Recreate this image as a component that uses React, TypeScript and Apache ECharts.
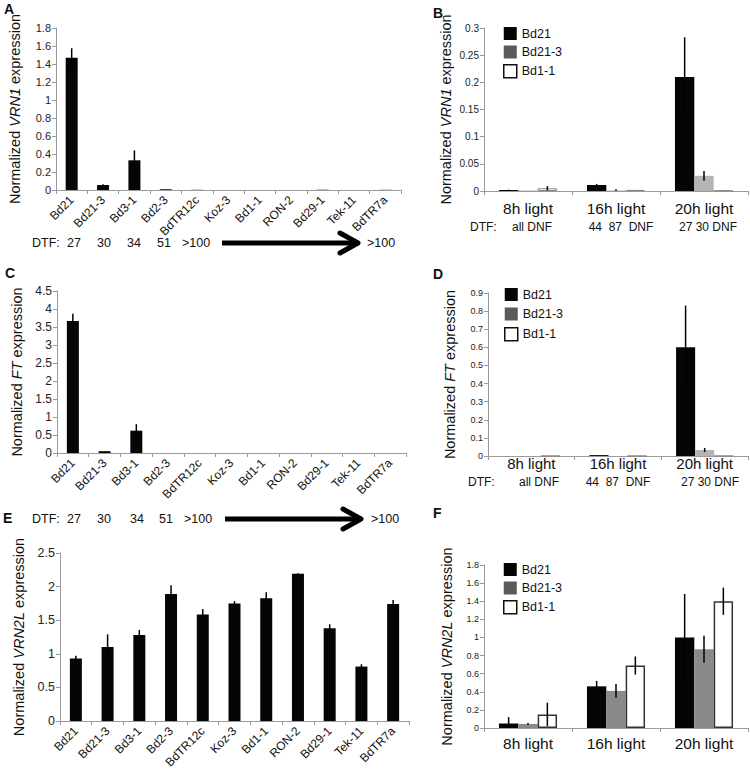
import React, { useEffect, useRef } from "react";
import * as echarts from "echarts";

const FONT = "Liberation Sans, Arial, sans-serif";

// ---------- data ----------
const strains = ["Bd21", "Bd21-3", "Bd3-1", "Bd2-3", "BdTR12c", "Koz-3", "Bd1-1", "RON-2", "Bd29-1", "Tek-11", "BdTR7a"];
const vrn1Strain = [1.47, 0.055, 0.33, 0.008, 0.002, 0, 0, 0, 0.003, 0, 0.002];
const vrn1StrainErr = [0.105, 0.008, 0.11, 0.002, 0, 0, 0, 0, 0, 0, 0];
const ftStrain = [3.67, 0.05, 0.62, 0, 0, 0, 0, 0, 0, 0, 0];
const ftStrainErr = [0.2, 0.005, 0.18, 0, 0, 0, 0, 0, 0, 0, 0];
const vrn2lStrain = [0.93, 1.1, 1.28, 1.89, 1.585, 1.75, 1.825, 2.19, 1.38, 0.81, 1.74];
const vrn2lStrainErr = [0.04, 0.19, 0.075, 0.13, 0.08, 0.035, 0.09, 0.01, 0.06, 0.035, 0.06];

const dtfValues = ["27", "30", "34", "51", ">100"];
const dtfEnd = ">100";

const lightGroups = ["8h light", "16h light", "20h light"];
const groupSeries = ["Bd21", "Bd21-3", "Bd1-1"];
const dtfGroups = ["all DNF", "44  87  DNF", "27 30 DNF"];

const vrn1Light = [
  [0.002, 0.011, 0.21],
  [0.001, 0.001, 0.028],
  [0.005, 0.002, 0.001],
];
const vrn1LightErr = [
  [0.0005, 0.002, 0.073],
  [0, 0.002, 0.009],
  [0.004, 0, 0],
];
const ftLight = [
  [0, 0.005, 0.6],
  [0, 0, 0.033],
  [0, 0, 0],
];
const ftLightErr = [
  [0, 0, 0.23],
  [0, 0, 0.011],
  [0, 0, 0],
];
const vrn2lLight = [
  [0.05, 0.46, 1.0],
  [0.045, 0.41, 0.87],
  [0.15, 0.69, 1.4],
];
const vrn2lLightErr = [
  [0.07, 0.06, 0.48],
  [0.01, 0.075, 0.15],
  [0.13, 0.1, 0.15],
];

// ---------- helpers ----------
const AXIS_GRAY = "#9a9a9a";

function errSeries(xi: number, values: number[], errs: number[], offset: number) {
  return {
    type: "custom",
    xAxisIndex: xi,
    yAxisIndex: xi,
    silent: true,
    z: 5,
    data: values.map((v, i) => [i, v, errs[i]]),
    renderItem: (params: any, api: any) => {
      const x = api.value(0);
      const v = api.value(1);
      const e = api.value(2);
      if (!e) return null;
      const top = api.coord([x, v + e]);
      const bot = api.coord([x, Math.max(v - e, 0)]);
      const w = api.size([1, 0])[0];
      const px = top[0] + offset * w;
      return {
        type: "line",
        shape: { x1: px, y1: top[1], x2: px, y2: bot[1] },
        style: { stroke: "#000", lineWidth: 1.5 },
      };
    },
  };
}

function yAxis(gi: number, max: number, interval: number, name: string, labelSize: number, nameGap: number) {
  return {
    gridIndex: gi,
    type: "value",
    min: 0,
    max,
    interval,
    axisLine: { show: true, lineStyle: { color: AXIS_GRAY, width: 1 } },
    axisTick: { show: true, length: 4, lineStyle: { color: AXIS_GRAY } },
    splitLine: { show: false },
    axisLabel: { fontSize: labelSize, color: "#222", margin: 5, fontFamily: FONT },
    name,
    nameLocation: "middle",
    nameRotate: 90,
    nameGap,
    nameTextStyle: {
      fontSize: 14.5,
      color: "#111",
      fontFamily: FONT,
      rich: { i: { fontStyle: "italic", fontSize: 14.5, color: "#111", fontFamily: FONT } },
    },
  };
}

function strainXAxis(gi: number) {
  return {
    gridIndex: gi,
    type: "category",
    data: strains,
    axisLine: { lineStyle: { color: AXIS_GRAY } },
    axisTick: { show: true, length: 4, lineStyle: { color: AXIS_GRAY } },
    axisLabel: { rotate: 45, interval: 0, fontSize: 12, color: "#111", margin: 8, fontFamily: FONT },
  };
}

function lightXAxis(gi: number, margin: number, size: number) {
  return {
    gridIndex: gi,
    type: "category",
    data: lightGroups,
    axisLine: { lineStyle: { color: AXIS_GRAY } },
    axisTick: { show: true, length: 4, lineStyle: { color: AXIS_GRAY } },
    axisLabel: { interval: 0, fontSize: size, color: "#111", margin, fontFamily: FONT },
  };
}

function strainBars(gi: number, values: number[]) {
  return {
    type: "bar",
    xAxisIndex: gi,
    yAxisIndex: gi,
    data: values,
    barWidth: 12,
    itemStyle: { color: "#050505" },
  };
}

function groupBars(gi: number, values: number[][], colors: any[]) {
  return values.map((vals, s) => ({
    type: "bar",
    name: groupSeries[s],
    xAxisIndex: gi,
    yAxisIndex: gi,
    data: vals,
    barWidth: "22%",
    barGap: "0%",
    itemStyle: colors[s],
  }));
}

function groupErrs(gi: number, values: number[][], errs: number[][]) {
  return values.map((vals, s) => errSeries(gi, vals, errs[s], (s - 1) * 0.22));
}

function legend(left: number, top: number, gap: number) {
  return {
    left,
    top,
    orient: "vertical",
    padding: 0,
    itemWidth: 13,
    itemHeight: 13,
    itemGap: gap,
    icon: "rect",
    selectedMode: false,
    textStyle: { fontSize: 12.5, color: "#111", fontFamily: FONT },
    data: [
      { name: "Bd21", itemStyle: { color: "#050505", borderWidth: 0 } },
      { name: "Bd21-3", itemStyle: { color: "#5a5a5a", borderWidth: 0 } },
      { name: "Bd1-1", itemStyle: { color: "#ffffff", borderColor: "#111", borderWidth: 1.5 } },
    ],
  };
}

function txt(x: number, y: number, text: string, size: number, opts: any = {}) {
  return {
    type: "text",
    x,
    y,
    silent: true,
    style: {
      text,
      fontSize: size,
      fontFamily: FONT,
      fill: "#111",
      textVerticalAlign: "middle",
      verticalAlign: "middle",
      ...opts,
    },
  };
}

function dtfRow(y: number, xs: number[], arrowX1: number, tipX: number, endX: number, halfH: number) {
  const els: any[] = [txt(32, y, "DTF:", 12.5)];
  dtfValues.forEach((v, i) => els.push(txt(xs[i], y, v, 12.5)));
  els.push({
    type: "line",
    silent: true,
    shape: { x1: arrowX1, y1: y, x2: tipX - 4, y2: y },
    style: { stroke: "#000", lineWidth: 5 },
  });
  els.push({
    type: "polyline",
    silent: true,
    shape: { points: [[tipX - 18, y - halfH], [tipX, y], [tipX - 18, y + halfH]] },
    style: { stroke: "#000", lineWidth: 5, fill: null, lineJoin: "round", lineCap: "round" },
  });
  els.push(txt(endX, y, dtfEnd, 12.5));
  return els;
}

function dtfGroupRow(y: number, dtfX: number, centers: number[]) {
  const els: any[] = [txt(dtfX, y, "DTF:", 12)];
  dtfGroups.forEach((g, i) => els.push(txt(centers[i], y, g, 12, { align: "center", textAlign: "center" })));
  return els;
}

export default function App() {
  const ref = useRef<HTMLDivElement>(null);

  useEffect(() => {
    if (!ref.current) return;
    const chart = echarts.init(ref.current, null, { renderer: "svg" });

    const colB = [
      { color: "#050505" },
      { color: "#b4b4b4" },
      { color: "#ffffff", borderColor: "#888", borderWidth: 1 },
    ];
    const colF = [
      { color: "#050505" },
      { color: "#8a8a8a" },
      { color: "#ffffff", borderColor: "#333", borderWidth: 1.5 },
    ];

    const option: any = {
      animation: false,
      backgroundColor: "#ffffff",
      textStyle: { fontFamily: FONT },
      grid: [
        { left: 56, top: 28, width: 345, height: 162 },
        { left: 484, top: 28, width: 264, height: 163 },
        { left: 57, top: 291, width: 349, height: 162 },
        { left: 488, top: 293, width: 260, height: 163 },
        { left: 60, top: 553, width: 349, height: 168 },
        { left: 484, top: 565, width: 264, height: 163 },
      ],
      xAxis: [
        strainXAxis(0),
        lightXAxis(1, 9, 15.5),
        strainXAxis(2),
        lightXAxis(3, 0, 15),
        strainXAxis(4),
        lightXAxis(5, 7, 15.5),
      ],
      yAxis: [
        yAxis(0, 1.8, 0.2, "Normalized {i|VRN1} expression", 11, 34),
        yAxis(1, 0.3, 0.05, "Normalized {i|VRN1} expression", 10, 31),
        yAxis(2, 4.5, 0.5, "Normalized {i|FT} expression", 12, 33),
        yAxis(3, 0.9, 0.1, "Normalized {i|FT} expression", 9, 31),
        yAxis(4, 2.5, 0.5, "Normalized {i|VRN2L} expression", 12.5, 34),
        yAxis(5, 1.8, 0.2, "Normalized {i|VRN2L} expression", 9, 30),
      ],
      legend: [legend(503, 27, 5.5), legend(504, 288, 6.5), legend(503, 563, 5.5)],
      series: [
        strainBars(0, vrn1Strain),
        errSeries(0, vrn1Strain, vrn1StrainErr, 0),
        ...groupBars(1, vrn1Light, colB),
        ...groupErrs(1, vrn1Light, vrn1LightErr),
        strainBars(2, ftStrain),
        errSeries(2, ftStrain, ftStrainErr, 0),
        ...groupBars(3, ftLight, colB),
        ...groupErrs(3, ftLight, ftLightErr),
        strainBars(4, vrn2lStrain),
        errSeries(4, vrn2lStrain, vrn2lStrainErr, 0),
        ...groupBars(5, vrn2lLight, colF),
        ...groupErrs(5, vrn2lLight, vrn2lLightErr),
      ],
      graphic: [
        txt(4, 9, "A", 14, { fontWeight: "bold" }),
        txt(433, 13, "B", 14, { fontWeight: "bold" }),
        txt(5, 273, "C", 14, { fontWeight: "bold" }),
        txt(433, 274, "D", 14, { fontWeight: "bold" }),
        txt(3, 518, "E", 14, { fontWeight: "bold" }),
        txt(433, 513, "F", 14, { fontWeight: "bold" }),
        ...dtfRow(243, [67, 97, 127, 157, 182], 222, 358, 367, 10),
        ...dtfRow(519, [67, 97, 130, 159, 184], 225, 361, 371, 10),
        ...dtfGroupRow(227, 470, [532, 621, 708]),
        ...dtfGroupRow(482, 468, [539, 618, 710]),
      ],
    };

    chart.setOption(option);
    return () => chart.dispose();
  }, []);

  return <div ref={ref} style={{ position: "absolute", left: 0, top: 0, width: 750, height: 775 }} />;
}
